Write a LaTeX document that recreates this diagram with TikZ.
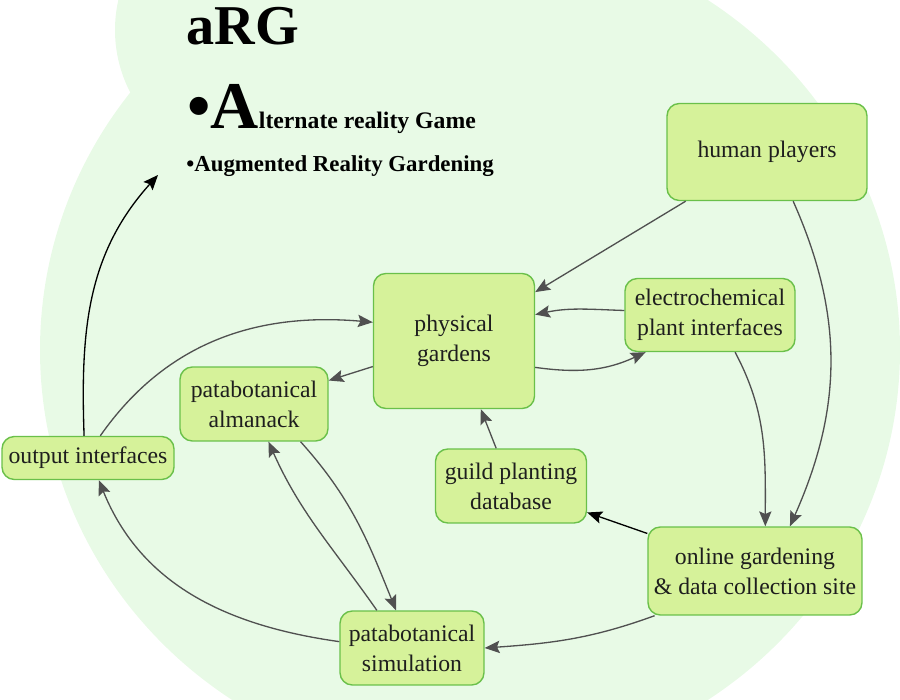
\documentclass[tikz,border=0pt]{standalone}
\usepackage{fontspec}
\setmainfont{Liberation Serif}
\usetikzlibrary{arrows.meta}

\definecolor{blobgreen}{RGB}{232,250,230}
\definecolor{boxfill}{RGB}{214,242,154}
\definecolor{boxline}{RGB}{106,192,74}
\definecolor{linkgray}{RGB}{80,80,80}
\definecolor{inkdark}{RGB}{30,30,30}

\begin{document}
\begin{tikzpicture}[x=0.02cm, y=0.02cm,
    box/.style={draw=boxline, fill=boxfill, line width=0.8pt, rounded corners=7pt,
        align=center, text=inkdark, font=\fontsize{13.5}{17}\selectfont, inner sep=2pt},
    link/.style={draw=linkgray, line width=0.75pt, -{Stealth[length=8.5pt, width=7pt, inset=1.5pt]}},
    blacklink/.style={link, draw=black}]

    % Fix the page size, then draw the green blob behind everything
    \useasboundingbox (0,0) rectangle (900,700);
    \clip (0,0) rectangle (900,700);
    \fill[blobgreen] (470,350) ellipse [x radius=430, y radius=420];
    \fill[blobgreen] (250,670) circle [radius=135];

    % Title lines
    \node[anchor=base west, inner sep=0pt] (title) at (186,655)
        {\fontsize{32}{32}\selectfont\bfseries aRG};
    \node[anchor=base west, inner sep=0pt] (game) at (187,571)
        {\bfseries\fontsize{38}{38}\selectfont •A\fontsize{13.5}{14}\selectfont lternate reality Game};
    \node[anchor=base west, inner sep=0pt] (gardening) at (186,528)
        {\bfseries\fontsize{13}{14}\selectfont •Augmented Reality Gardening};
    \coordinate (tip) at (158,525);

    % The boxes
    \node[box, minimum width=4cm, minimum height=1.94cm] (human) at (767,548) {human players};
    \node[box, minimum width=3.22cm, minimum height=2.7cm] (physical) at (454,359) {physical\\gardens};
    \node[box, minimum width=3.4cm, minimum height=1.46cm] (electro) at (710,385) {electrochemical\\plant interfaces};
    \node[box, minimum width=2.96cm, minimum height=1.48cm] (almanack) at (254,296) {patabotanical\\almanack};
    \node[box, minimum width=3.44cm, minimum height=0.86cm] (output) at (88,242) {output interfaces};
    \node[box, minimum width=3.02cm, minimum height=1.48cm] (guild) at (511,214) {guild planting\\database};
    \node[box, minimum width=4.28cm, minimum height=1.76cm] (online) at (755,129) {online gardening\\\& data collection site};
    \node[box, minimum width=2.88cm, minimum height=1.48cm] (simulation) at (412,52) {patabotanical\\simulation};

    % Straight links
    \draw[link] (human) -- (physical);
    \draw[link] (physical) -- (almanack);
    \draw[link] (guild) -- (physical);
    \draw[blacklink] (online) -- (guild);

    % Curved links
    \draw[link] (human.298) to[out=-66, in=66] (online.52);
    \draw[link] (electro.177) to[out=178, in=12] (physical.18);
    \draw[link] (physical.-18) to[out=-8, in=205] (electro.210);
    \draw[link] (electro.-56) to[out=-62, in=90] (online.77);
    \draw[link] (output.61) to[out=55, in=175] (physical.167);
    \draw[blacklink] (output.100) to[out=92, in=-132] (tip);
    \draw[link] (almanack.-39) to[out=-48, in=112] (simulation.113);
    \draw[link] (simulation.133) to[out=125, in=-66] (almanack.-69);
    \draw[link] (simulation.175) to[out=172, in=-68] (output.-64);
    \draw[link] (online.204) to[out=200, in=4] (simulation.east);
\end{tikzpicture}
\end{document}
